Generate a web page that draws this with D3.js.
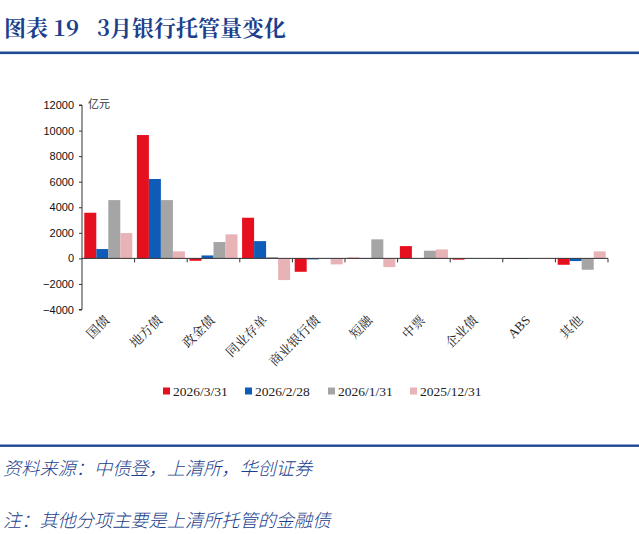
<!DOCTYPE html>
<html><head><meta charset="utf-8">
<script src="https://cdn.jsdelivr.net/npm/d3@7/dist/d3.min.js"></script>
<style>body{margin:0;background:#fff}</style>
</head><body>
<svg id="c" width="639" height="534"></svg>
<script>
const categories = ["国债","地方债","政金债","同业存单","商业银行债","短融","中票","企业债","ABS","其他"];
const seriesNames = ["2026/3/31","2026/2/28","2026/1/31","2025/12/31"];
const s2026_03 = [3570, 9650, -190, 3180, -1050, 50, 960, -100, -50, -500];
const s2026_02 = [730, 6210, 230, 1350, -80, 30, 0, -20, -50, -210];
const s2026_01 = [4560, 4560, 1280, 100, -30, 1490, 600, 0, -20, -890];
const s2025_12 = [1980, 550, 1880, -1700, -470, -680, 700, -30, 30, 550];
const yTicks = [-4000,-2000,0,2000,4000,6000,8000,10000,12000];
const colors = ["#e60f1d","#0f5cb8","#a5a5a5","#e8b3b7"];
const series = [s2026_03, s2026_02, s2026_01, s2025_12];

const svg = d3.select("#c");
const navy = "#1c3f8c";

// title
const tf = "'Noto Serif CJK SC','Noto Sans CJK SC',serif";
[["图表",4],["19",53],["3月银行托管量变化",97]].forEach(([t,x])=>{
  svg.append("text").attr("x",x).attr("y",36).attr("font-family",tf).attr("font-weight","bold")
    .attr("font-size",22).attr("fill",navy).text(t);
});
svg.append("rect").attr("x",0).attr("y",51.5).attr("width",639).attr("height",2.6).attr("fill","#1f4a92");
svg.append("rect").attr("x",0).attr("y",444.5).attr("width",639).attr("height",2.4).attr("fill","#1f4a92");

const x0 = d3.scaleBand().domain(categories).range([82,608]).paddingInner(0).paddingOuter(0);
const x1 = d3.scaleBand().domain(d3.range(4)).range([0,x0.bandwidth()]).paddingOuter(0.19).paddingInner(0);
const y = d3.scaleLinear().domain([-4000,12000]).range([309.5,105]);

// bars
series.forEach((s,i)=>{
  svg.append("g").selectAll("rect").data(s).join("rect")
    .attr("x",(d,j)=>x0(categories[j])+x1(i))
    .attr("width",x1.bandwidth())
    .attr("y",d=>y(Math.max(0,d)))
    .attr("height",d=>Math.abs(y(d)-y(0)))
    .attr("fill",colors[i]);
});

// y axis
const ya = svg.append("g").attr("transform","translate(82,0)")
  .call(d3.axisLeft(y).tickValues(yTicks).tickSize(3).tickFormat(d3.format("d")));
ya.select(".domain").attr("stroke","#333").attr("d","M-3,"+y(12000)+"H0V"+y(-4000)+"H-3");
ya.selectAll(".tick line").attr("stroke","#333");
ya.selectAll("text").attr("font-family","'Liberation Sans',Arial,sans-serif").attr("font-size",11).attr("fill","#111").attr("x",-8);

// unit
svg.append("text").attr("x",88).attr("y",108).attr("font-family","'Noto Sans CJK SC',sans-serif")
  .attr("font-size",11).attr("fill","#333").text("亿元");

// x axis at zero
const xa = svg.append("g").attr("transform",`translate(0,${y(0)})`);
xa.append("line").attr("x1",82).attr("x2",608).attr("stroke","#333");
const bounds = categories.map(c=>x0(c)).concat([x0(categories[9])+x0.bandwidth()]);
xa.selectAll("line.t").data(bounds.slice(1)).join("line").attr("class","t")
  .attr("x1",d=>d).attr("x2",d=>d).attr("y1",0).attr("y2",4).attr("stroke","#333");

// x labels
svg.append("g").selectAll("text").data(categories).join("text")
  .attr("transform",d=>`translate(${x0(d)+x0.bandwidth()/2+2},${321}) rotate(-45)`)
  .attr("text-anchor","end")
  .attr("font-family",d=>d==="ABS"?"'Liberation Serif',serif":tf)
  .attr("font-size",13).attr("fill","#222").text(d=>d);

// legend
const lx = [163,245,328,410];
seriesNames.forEach((n,i)=>{
  svg.append("rect").attr("x",lx[i]).attr("y",387.5).attr("width",7).attr("height",7).attr("fill",colors[i]);
  svg.append("text").attr("x",lx[i]+10).attr("y",395.5).attr("font-family","'Liberation Serif',serif")
    .attr("font-size",13.5).attr("fill","#222").text(n);
});

// notes
svg.append("text").attr("x",3).attr("y",475).attr("font-family","'Noto Sans CJK SC',sans-serif")
  .attr("font-style","italic").attr("font-weight",300).attr("font-size",18.2).attr("fill",navy).text("资料来源：中债登，上清所，华创证券");
svg.append("text").attr("x",3).attr("y",527).attr("font-family","'Noto Sans CJK SC',sans-serif")
  .attr("font-style","italic").attr("font-weight",300).attr("font-size",18.2).attr("fill",navy).text("注：其他分项主要是上清所托管的金融债");
</script>
</body></html>
